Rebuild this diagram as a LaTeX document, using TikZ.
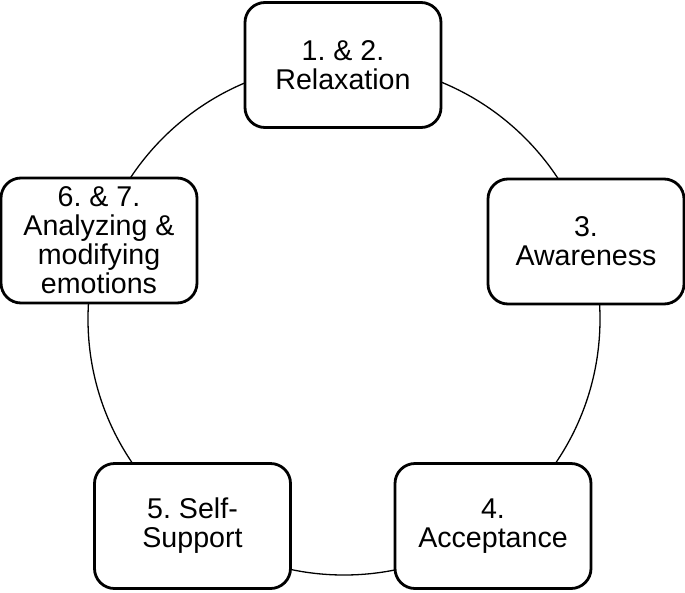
\documentclass[tikz,border=0pt]{standalone}
\usepackage{fontspec}
\setmainfont{Liberation Sans}
\frenchspacing
\begin{document}
\begin{tikzpicture}[x=1pt,y=-1pt,
  stage/.style={draw, line width=2.8pt, rounded corners=20pt, fill=white,
    minimum width=196pt, minimum height=125pt, align=center,
    font=\fontsize{28.6}{29}\selectfont\frenchspacing, inner sep=0pt},
  ring/.style={line width=1.3pt}]
\useasboundingbox (0,0) rectangle (685,592);
\coordinate (c) at (344,319);
\draw[ring] (c) circle[radius=256];
\node[stage] (n1) at (343,65) {1. \& 2.\\Relaxation};
\node[stage] (n3) at (586,241.5) {3.\\Awareness};
\node[stage] (n4) at (493,526) {4.\\Acceptance};
\node[stage] (n5) at (192.5,526) {5. Self-\\Support};
\node[stage] (n6) at (99,240.5) {6. \& 7.\\Analyzing \&\\modifying\\emotions};
\end{tikzpicture}
\end{document}
